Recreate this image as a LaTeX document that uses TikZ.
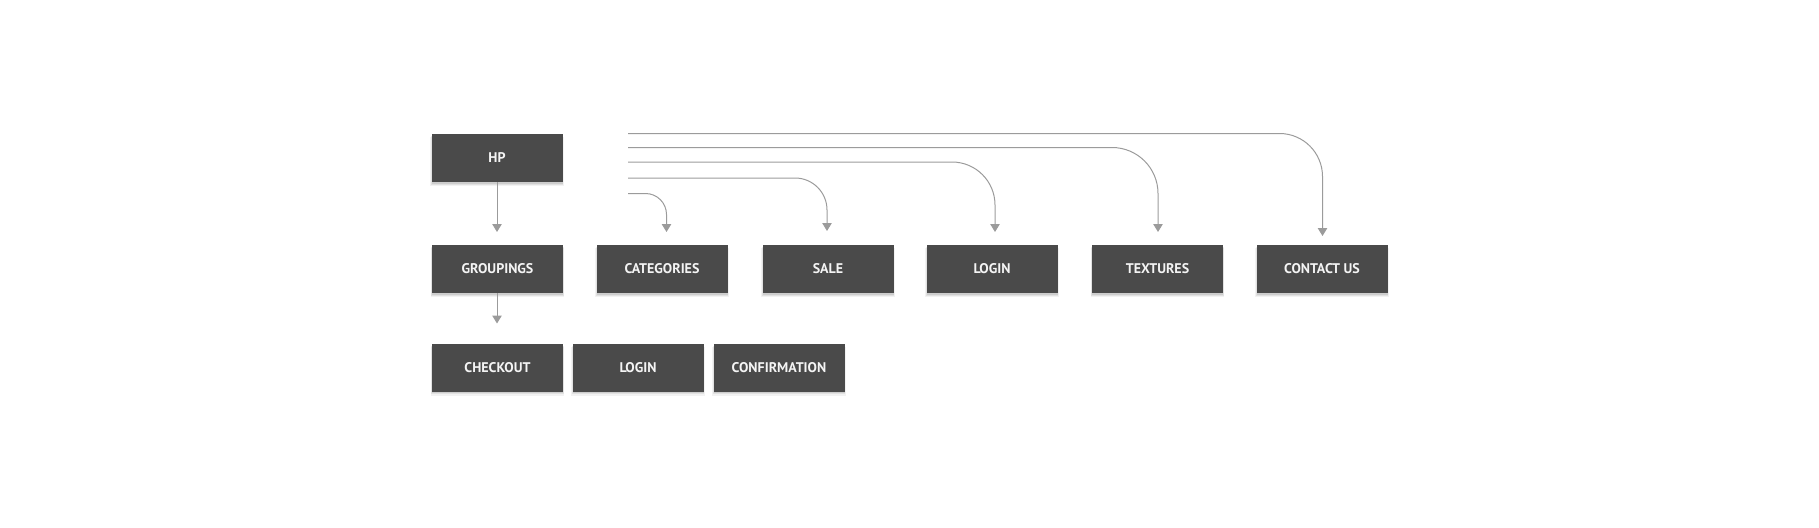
\documentclass[tikz,border=0pt]{standalone}
\usepackage{fontspec}
\setmainfont{PT Sans}
\usetikzlibrary{arrows.meta,shadows}
\definecolor{boxfill}{HTML}{4A4A4A}
\definecolor{linegray}{HTML}{9B9B9B}
\definecolor{txt}{HTML}{F4F4F4}
\tikzset{
  pagebox/.style={fill=boxfill, text=txt, minimum width=131pt, minimum height=48pt,
    inner sep=0pt, font=\bfseries\fontsize{14}{16}\selectfont,
    general shadow={shadow yshift=-3.5pt, shadow scale=1.02, opacity=0.05, fill=black},
    general shadow={shadow yshift=-2.5pt, shadow scale=1.01, opacity=0.07, fill=black},
    general shadow={shadow yshift=-1.5pt, opacity=0.09, fill=black}},
  link/.style={draw=linegray, line width=1pt, -{Triangle[width=9.5pt,length=8pt]}}
}
\begin{document}
\begin{tikzpicture}[x=1pt,y=-1pt]
\useasboundingbox (0,0) rectangle (1819,527);
% nodes
\node[pagebox] (hp) at (497,158) {HP};
\node[pagebox] (grp) at (497.5,269) {GROUPINGS};
\node[pagebox] (cat) at (662,269) {CATEGORIES};
\node[pagebox] (sale) at (828,269) {SALE};
\node[pagebox] (login) at (992,269) {LOGIN};
\node[pagebox] (tex) at (1157.5,269) {TEXTURES};
\node[pagebox] (contact) at (1322,269) {CONTACT US};
\node[pagebox] (chk) at (497.5,367.5) {CHECKOUT};
\node[pagebox] (login2) at (638,367.5) {LOGIN};
\node[pagebox] (conf) at (779,367.5) {CONFIRMATION};
% link ends
\coordinate (tgrp) at (497,232);
\coordinate (tchk) at (497,323.5);
\coordinate (s5) at (628,193.5);
\coordinate (s4) at (628,178);
\coordinate (s3) at (628,162);
\coordinate (s2) at (628,147.5);
\coordinate (s1) at (628,133.5);
\coordinate (tcat) at (666.5,232);
\coordinate (tsale) at (827,231);
\coordinate (tlogin) at (995,232);
\coordinate (ttex) at (1158,232);
\coordinate (tcontact) at (1322.5,236);
% connectors
\draw[link] (hp.south -| tgrp) -- (tgrp);
\draw[link] (grp.south -| tchk) -- (tchk);
\draw[link, rounded corners=21pt] (s5) -| (tcat);
\draw[link, rounded corners=32pt] (s4) -| (tsale);
\draw[link, rounded corners=43pt] (s3) -| (tlogin);
\draw[link, rounded corners=46pt] (s2) -| (ttex);
\draw[link, rounded corners=43pt] (s1) -| (tcontact);
\end{tikzpicture}
\end{document}
